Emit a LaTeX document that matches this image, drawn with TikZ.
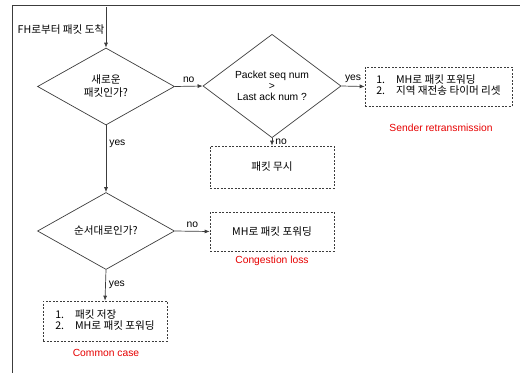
\documentclass[tikz,border=0pt]{standalone}
\usepackage{fontspec}
\setmainfont{Liberation Sans}
\newfontfamily\kr{Noto Sans CJK KR}
\usetikzlibrary{shapes.geometric,arrows.meta}
\definecolor{lbl}{RGB}{230,0,0}
\definecolor{ln}{RGB}{60,60,60}
\begin{document}
\begin{tikzpicture}[x=1pt,y=-1pt,font=\fontsize{10.3}{12}\selectfont,
  krf/.style={font=\kr\fontsize{10.6}{13}\selectfont},
  dia/.style={diamond,draw=ln,line width=0.7pt,minimum width=137pt,minimum height=77pt,inner sep=0pt,align=center},
  dbox/.style={draw=ln,line width=0.6pt,dash pattern=on 2pt off 1.5pt,minimum width=124pt,minimum height=40pt,inner sep=0pt,align=left},
  arr/.style={draw=ln,line width=0.7pt,-{Latex[length=5pt,width=4pt]}},
  red/.style={text=lbl},
  lab/.style={inner sep=1pt}]
\useasboundingbox (0,0) rectangle (520,373);
\draw[ln,line width=0.8pt] (520,5) -- (12,5) -- (12,373);
\coordinate (start) at (106,7);
\node[krf] (tin) at (61,30) {FH로부터 패킷 도착};
\node[dia,krf] (d1) at (106,86.5) {새로운\\패킷인가?};
\node[dia,minimum width=138pt,minimum height=76pt] (d2) at (272,86) {Packet seq num\\[-1pt]>\\[-1pt]Last ack num ?};
\node[dia,krf] (d3) at (106,231) {순서대로인가?};
\node[dbox,minimum width=147pt,minimum height=39pt,krf] (sb) at (438.5,86.5)
  {\begin{tabular}{@{}l@{\hspace{11pt}}l@{}}1.&MH로 패킷 포워딩\\[-2pt]2.&지역 재전송 타이머 리셋\end{tabular}};
\node[dbox,minimum height=42pt,krf] (ig) at (272,167) {패킷 무시};
\node[dbox,minimum height=39pt,krf] (mh) at (272,231.5) {MH로 패킷 포워딩};
\node[dbox,krf] (cb) at (105,321)
  {\begin{tabular}{@{}l@{\hspace{11pt}}l@{}}1.&패킷 저장\\[-2pt]2.&MH로 패킷 포워딩\end{tabular}};
\node[red] (rs) at (441,128) {Sender retransmission};
\node[red] (rc) at (272,261) {Congestion loss};
\node[red] (rm) at (106,353) {Common case};
\draw[arr] (start) -- (d1.north);
\draw[arr] (d1.east) -- node[lab,above=2pt] {no} (d2.west);
\draw[arr] (d2.east) -- node[lab,above=2pt] {yes} (sb.west);
\draw[arr] (d2.south) -- node[lab,right=2pt] {no} (ig.north);
\draw[arr] (d1.south) -- node[lab,right=2pt,pos=0.27] {yes} (d3.north);
\draw[arr] (d3.east) -- node[lab,above=2pt] {no} (mh.west);
\draw[arr] (d3.south) -- node[lab,right=2pt] {yes} (cb.north);
\end{tikzpicture}
\end{document}
